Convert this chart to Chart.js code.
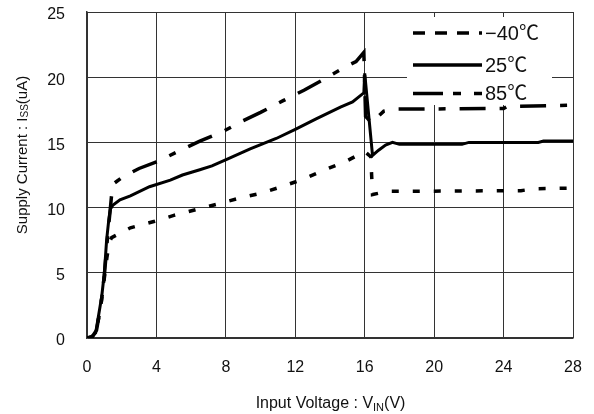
<!DOCTYPE html>
<html>
<head>
<meta charset="utf-8">
<script src="https://cdn.jsdelivr.net/npm/chart.js@4.4.1/dist/chart.umd.min.js"></script>
<style>
  html, body { margin: 0; padding: 0; background: #fff; }
</style>
</head>
<body>
<canvas id="grafico" width="594" height="414"></canvas>
<script>
// ============ DATA ============
const xTicks = [0, 4, 8, 12, 16, 20, 24, 28];
const yTicks = [0, 5, 10, 15, 20, 25];
const seriesNames = ['\u221240\u2103', '25\u2103', '85\u2103'];

// -40C
const vCold = [0, 0.3, 0.55, 0.8, 1.0, 1.15, 1.3, 1.42, 2.5, 3.9, 5.0, 6.3, 7.6, 8.7, 10.0, 11.2, 12.5, 13.7, 15.0, 16.0, 16.35, 16.45, 16.8, 17.3, 18.5, 25.0, 25.8, 28];
const iCold = [0, 0.1, 0.6, 2.5, 4.6, 6.2, 7.4, 7.7, 8.45, 8.95, 9.4, 9.85, 10.3, 10.7, 11.1, 11.6, 12.2, 12.9, 13.6, 14.3, 13.9, 11.0, 11.1, 11.25, 11.25, 11.3, 11.45, 11.5];

// 25C
const vRoom = [0, 0.3, 0.5, 0.65, 0.85, 1.0, 1.13, 1.25, 1.35, 1.5, 1.9, 2.5, 3.6, 4.8, 5.5, 6.5, 7.2, 8.05, 9.4, 10.9, 12.0, 13.2, 14.6, 15.3, 15.95, 16.0, 16.45, 16.8, 17.2, 17.6, 18.0, 21.6, 22.0, 26.0, 26.3, 28];
const iRoom = [0, 0.1, 0.4, 1.6, 3.2, 5.0, 7.5, 9.0, 9.9, 10.2, 10.6, 10.9, 11.6, 12.1, 12.5, 12.9, 13.2, 13.7, 14.5, 15.3, 16.0, 16.8, 17.7, 18.1, 18.8, 20.3, 14.0, 14.4, 14.8, 15.0, 14.85, 14.85, 15.0, 15.0, 15.1, 15.1];

// 85C
const vHot = [0, 0.3, 0.55, 0.8, 1.0, 1.2, 1.35, 1.42, 1.6, 2.0, 3.0, 4.0, 5.4, 6.5, 7.85, 8.9, 10.0, 11.3, 12.5, 13.6, 14.9, 15.5, 15.95, 16.05, 16.4, 16.7, 17.1, 17.7, 24.0, 24.2, 28];
const iHot = [0, 0.1, 0.6, 2.5, 4.8, 8.0, 10.0, 11.0, 11.9, 12.3, 13.0, 13.5, 14.4, 15.1, 15.85, 16.6, 17.3, 18.2, 19.0, 19.8, 20.8, 21.2, 21.9, 17.0, 16.5, 16.9, 17.4, 17.55, 17.6, 17.75, 17.85];

// ============ ESTILOS ============
const dashCold = [7, 14];
const dashHot = [26, 14, 7, 14];

function puntos(vs, is) {
    return vs.map((v, k) => ({ x: v, y: is[k] }));
}

// titulos de los ejes (con subindices)
const titulos = {
    id: 'titulos',
    afterDraw(chart) {
        const ctx = chart.ctx;
        ctx.save();
        ctx.fillStyle = '#111';
        ctx.textBaseline = 'alphabetic';

        // eje x
        const big = '16px "Liberation Sans", Arial, sans-serif';
        const small = '11px "Liberation Sans", Arial, sans-serif';
        const partes = [['Input Voltage : V', big, 0], ['IN', small, 3], ['(V)', big, 0]];
        let total = 0;
        partes.forEach(p => { ctx.font = p[1]; total += ctx.measureText(p[0]).width; });
        let x = 330.5 - total / 2;
        partes.forEach(p => {
            ctx.font = p[1];
            ctx.fillText(p[0], x, 408 + p[2]);
            x += ctx.measureText(p[0]).width;
        });

        // eje y
        ctx.translate(27, 155);
        ctx.rotate(-Math.PI / 2);
        const bigY = '15px "Liberation Sans", Arial, sans-serif';
        const smallY = '10px "Liberation Sans", Arial, sans-serif';
        const partesY = [['Supply Current : I', bigY, 0], ['SS', smallY, 1], ['(uA)', bigY, 0]];
        total = 0;
        partesY.forEach(p => { ctx.font = p[1]; total += ctx.measureText(p[0]).width; });
        x = -total / 2;
        partesY.forEach(p => {
            ctx.font = p[1];
            ctx.fillText(p[0], x, p[2]);
            x += ctx.measureText(p[0]).width;
        });
        ctx.restore();
    }
};

// leyenda dibujada a mano
const leyenda = {
    id: 'leyenda',
    beforeDatasetsDraw(chart) {
        const ctx = chart.ctx;
        ctx.save();
        ctx.fillStyle = '#fff';
        ctx.fillRect(407, 17, 145, 88);
        const filas = [33, 65, 93.5];
        const dashes = [[12, 10], [], [30, 10, 8, 13, 8, 100]];
        ctx.strokeStyle = '#000';
        ctx.lineWidth = 3.5;
        ctx.lineCap = 'butt';
        filas.forEach((y, k) => {
            ctx.setLineDash(dashes[k]);
            ctx.beginPath();
            ctx.moveTo(413, y);
            ctx.lineTo(482, y);
            ctx.stroke();
        });
        ctx.setLineDash([]);
        ctx.fillStyle = '#111';
        ctx.font = '20px "Liberation Sans", "Noto Sans CJK JP", sans-serif';
        ctx.textBaseline = 'middle';
        filas.forEach((y, k) => {
            ctx.fillText(seriesNames[k], 485, y + 1);
        });
        ctx.restore();
    }
};

const ctx = document.getElementById('grafico').getContext('2d');
const chart = new Chart(ctx, {
    type: 'line',
    data: {
        datasets: [
            {
                label: seriesNames[0],
                data: puntos(vCold, iCold),
                borderColor: '#000',
                borderWidth: 3.5,
                borderDash: dashCold
            },
            {
                label: seriesNames[1],
                data: puntos(vRoom, iRoom),
                borderColor: '#000',
                borderWidth: 3
            },
            {
                label: seriesNames[2],
                data: puntos(vHot, iHot),
                borderColor: '#000',
                borderWidth: 3.5,
                borderDash: dashHot
            }
        ]
    },
    options: {
        responsive: false,
        animation: false,
        layout: { padding: { top: 12, right: 21, left: 0, bottom: 0 } },
        elements: {
            point: { radius: 0 },
            line: { tension: 0, borderCapStyle: 'butt', fill: false }
        },
        plugins: {
            legend: { display: false },
            tooltip: { enabled: false }
        },
        scales: {
            x: {
                type: 'linear',
                min: 0,
                max: 28,
                afterBuildTicks: s => { s.ticks = xTicks.map(v => ({ value: v })); },
                afterFit: s => { s.height = 76; s.paddingLeft = 0; s.paddingRight = 0; },
                grid: { color: '#333', lineWidth: 1, drawTicks: false },
                border: { color: '#333', width: 1.5 },
                ticks: {
                    padding: 20,
                    maxRotation: 0,
                    color: '#111',
                    font: { family: '"Liberation Sans", Arial, sans-serif', size: 16 }
                }
            },
            y: {
                min: 0,
                max: 25,
                afterBuildTicks: s => { s.ticks = yTicks.map(v => ({ value: v })); },
                afterFit: s => { s.width = 87; s.paddingTop = 0; s.paddingBottom = 0; },
                grid: { color: '#333', lineWidth: 1, drawTicks: false },
                border: { color: '#333', width: 1.5 },
                ticks: {
                    padding: 22,
                    labelOffset: 3,
                    color: '#111',
                    font: { family: '"Liberation Sans", Arial, sans-serif', size: 16 }
                }
            }
        }
    },
    plugins: [leyenda, titulos]
});
</script>
</body>
</html>
